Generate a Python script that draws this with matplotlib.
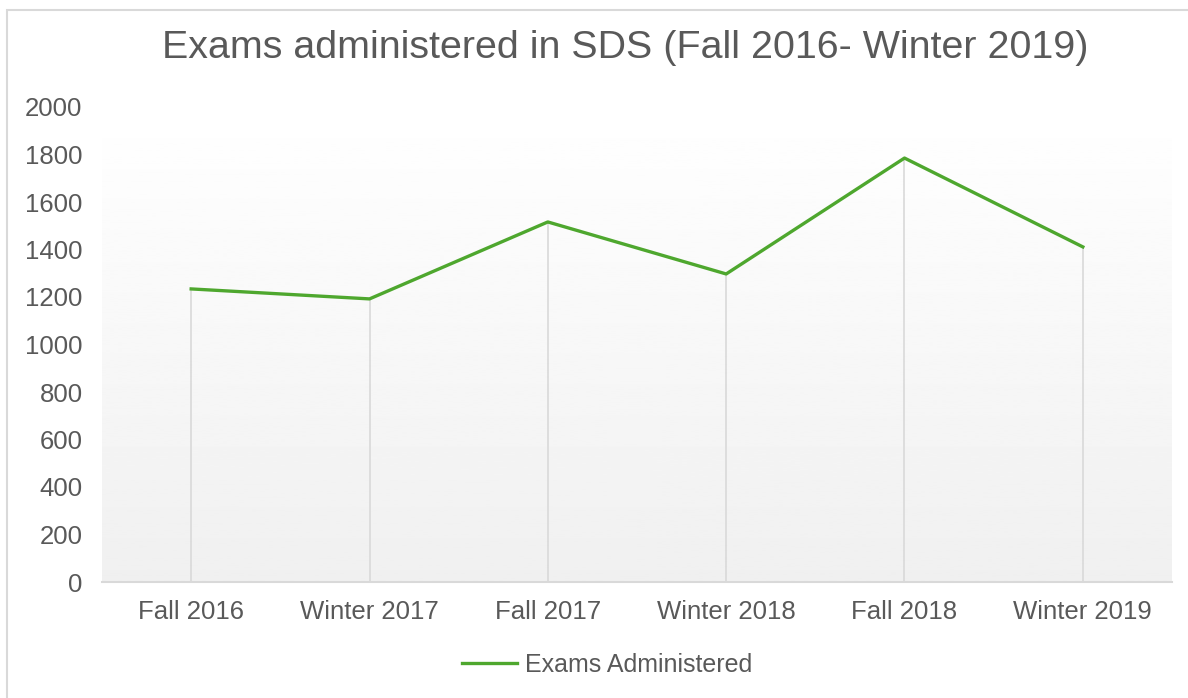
import matplotlib
matplotlib.use("Agg")
import matplotlib.pyplot as plt
import numpy as np
from matplotlib.patches import Rectangle
from matplotlib.lines import Line2D

categories = ["Fall 2016", "Winter 2017", "Fall 2017", "Winter 2018", "Fall 2018", "Winter 2019"]
exams = [1234, 1192, 1516, 1297, 1785, 1411]
yticks = [0, 200, 400, 600, 800, 1000, 1200, 1400, 1600, 1800, 2000]
title = "Exams administered in SDS (Fall 2016- Winter 2019)"
series_name = "Exams Administered"

plt.rcParams['font.family'] = ['Liberation Sans', 'DejaVu Sans']
W, H = 1188, 698
fig = plt.figure(figsize=(W/100, H/100), dpi=100)

def fx(p): return p / W
def fy(p): return 1 - p / H

left_px, right_px, top_px, bottom_px = 102, 1172, 107, 582
ax = fig.add_axes([fx(left_px), fy(bottom_px), fx(right_px - left_px), (bottom_px - top_px) / H])

x = np.arange(len(categories))
xmin = -0.5
xmax = 5.5
ax.set_xlim(xmin, xmax)
ax.set_ylim(0, 2000)

# gradient background
grad = np.linspace(0.94, 1.0, 256).reshape(-1, 1)
ax.imshow(grad, extent=[xmin, xmax, 0, 2000], origin='lower', aspect='auto',
          cmap='gray', vmin=0, vmax=1, zorder=0)

ax.vlines(x, 0, exams, color='#d9d9d9', lw=1.2, zorder=1)
ax.plot(x, exams, color='#4ea72e', lw=2.4, zorder=3, label=series_name, solid_joinstyle='round')

for s in ['top', 'right', 'left']:
    ax.spines[s].set_visible(False)
ax.spines['bottom'].set_color('#d9d9d9')
ax.spines['bottom'].set_linewidth(1.5)

ax.set_xticks(x)
ax.set_xticklabels(categories)
ax.set_yticks(yticks)
ax.set_yticklabels([str(v) for v in yticks])
ax.tick_params(axis='both', length=0, colors='#595959', labelsize=18.5)
ax.tick_params(axis='x', pad=13)
ax.tick_params(axis='y', pad=14)

fig.text(fx(625), fy(48), title, ha='center', va='center', fontsize=28.4, color='#595959')

handle = Line2D([], [], color='#4ea72e', lw=2.4)
fig.legend([handle], [series_name], loc='center', bbox_to_anchor=(fx(607), fy(665)),
           frameon=False, fontsize=18, labelcolor='#595959', handlelength=2.2,
           handletextpad=0.3)

fig.patches.append(Rectangle((fx(7), -0.05), 1.2, fy(10) + 0.05, transform=fig.transFigure,
                             fill=False, edgecolor='#d9d9d9', lw=1.5))

fig.savefig("out.png", dpi=100, facecolor='white')
